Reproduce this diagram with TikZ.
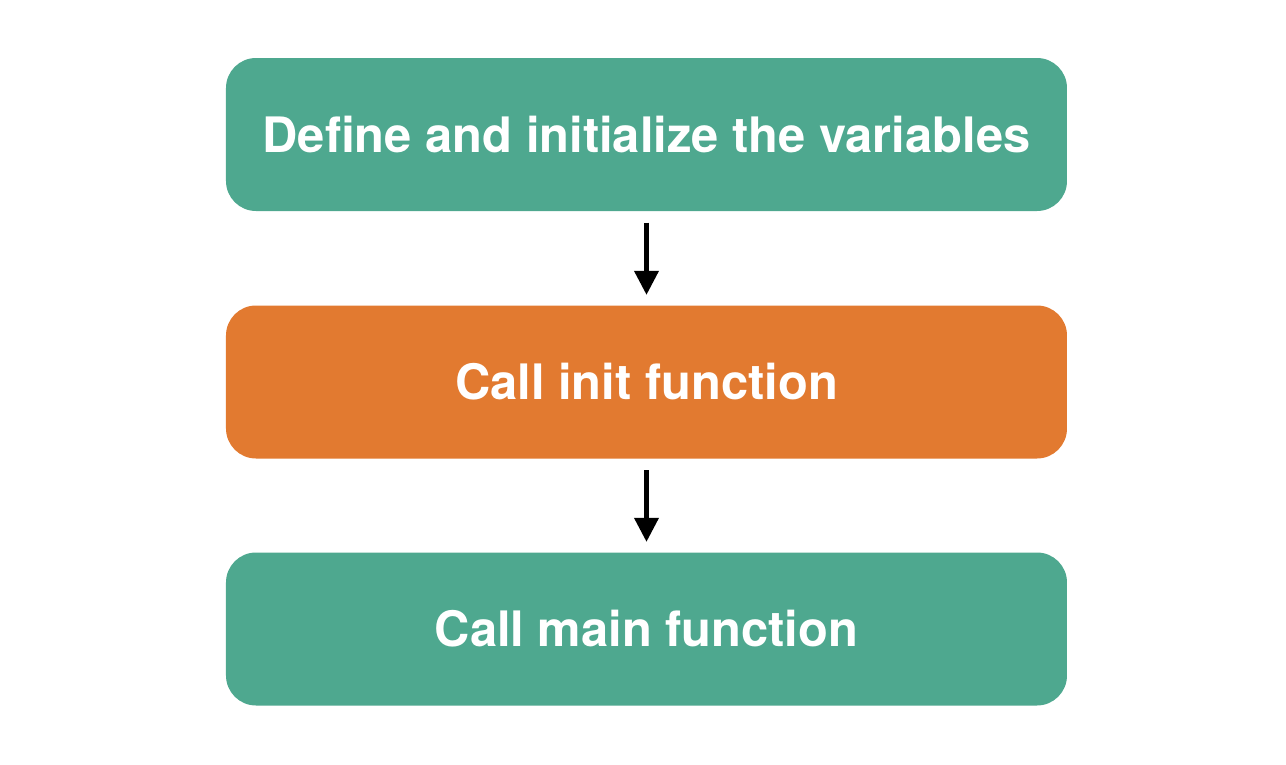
\documentclass[tikz,border=0pt]{standalone}
\usepackage{fontspec}
\setmainfont{TeX Gyre Heros}
\usetikzlibrary{arrows.meta}
\definecolor{stepgreen}{RGB}{78,168,143}
\definecolor{steporange}{RGB}{226,122,48}
\tikzset{
  stepbox/.style={draw=none, rounded corners=0.3cm, minimum width=8.41cm, minimum height=1.53cm,
    text=white, font=\fontsize{13.9}{16}\selectfont\bfseries, inner sep=0pt},
  flow/.style={line width=1.15pt, -{Triangle[length=6.8pt,width=6.8pt]}, shorten <=0.11cm, shorten >=0.1cm}
}
\begin{document}
\begin{tikzpicture}
	  \useasboundingbox (0,0) rectangle (12.86,7.64);

	  \node[stepbox, fill=stepgreen] (define) at (6.465,6.295) {Define and initialize the variables};
	  \node[stepbox, fill=steporange] (init) at (6.465,3.82) {Call init function};
	  \node[stepbox, fill=stepgreen] (main) at (6.465,1.35) {Call main function};

	  \draw[flow] (define) -- (init);
	  \draw[flow] (init) -- (main);
	\end{tikzpicture}
\end{document}
